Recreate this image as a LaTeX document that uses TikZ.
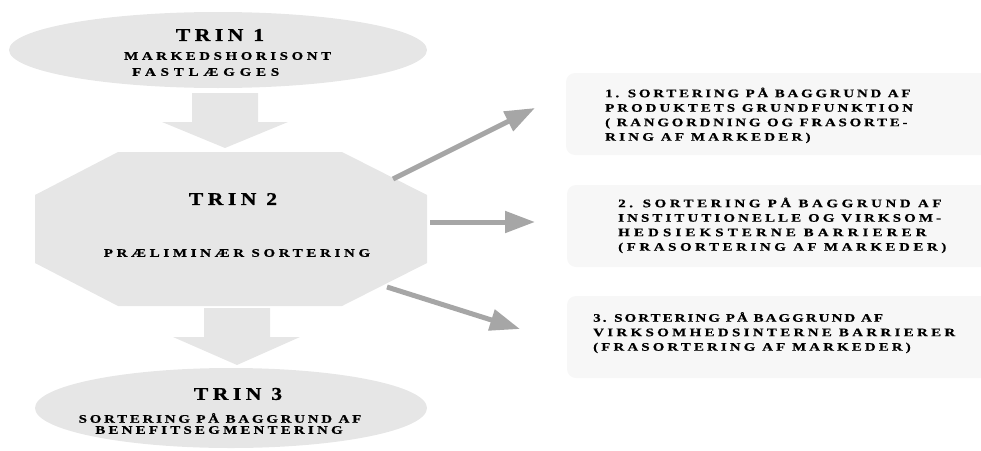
\documentclass[tikz,border=0pt]{standalone}
\usepackage{fontspec}
\setmainfont{Liberation Serif}
\newfontfamily\smallfam{Liberation Serif}[FakeStretch=1.3,FakeBold=0.7]
\newfontfamily\bigfam{Liberation Serif}[FakeStretch=1.2,FakeBold=0.8]
\usetikzlibrary{shapes.geometric,arrows.meta}
\definecolor{shapegray}{HTML}{E6E6E6}
\definecolor{boxgray}{HTML}{F7F7F7}
\definecolor{arrowgray}{HTML}{A6A6A6}
\newcommand{\lsp}[2]{{\addfontfeature{LetterSpace=#1}#2}}
\tikzset{
  x=1pt, y=-1pt,
  stage/.style={fill=shapegray, draw=none, inner sep=0pt},
  bigtxt/.style={inner sep=0pt, font=\bigfam\fontsize{18}{20}\selectfont\bfseries},
  smalltxt/.style={inner sep=0pt, font=\smallfam\fontsize{11.5}{13}\selectfont\bfseries},
  boxtxt/.style={inner sep=0pt, align=left, font=\smallfam\fontsize{11.5}{14.5}\selectfont\bfseries},
  sidebox/.style={fill=boxgray, draw=none, rounded corners=9pt},
  blockarrow/.style={fill=shapegray, draw=none},
  thinarrow/.style={draw=arrowgray, line width=5pt, -{Triangle[length=30pt,width=21pt]}},
}
\begin{document}
\begin{tikzpicture}
\useasboundingbox (0,0) rectangle (981,450);
\clip (0,0) rectangle (981,450);
% stage 1
\node[stage, ellipse, minimum width=418pt, minimum height=76pt] (t1) at (218,50) {};
\node[bigtxt] (t1a) at (220,35) {\lsp{25}{TRIN 1}};
\node[smalltxt, anchor=west] (t1b) at (124,56) {\lsp{31}{MARKEDSHORISONT}};
\node[smalltxt, anchor=west] (t1c) at (132,72) {\lsp{42}{FASTLÆGGES}};
% block arrow 1
\fill[blockarrow] (192,93) -- (258,93) -- (258,122) -- (288,122) -- (225,148) -- (162,122) -- (192,122) -- cycle;
% stage 2 octagon
\fill[shapegray] (118,152) -- (342,152) -- (427,195) -- (427,263) -- (342,306) -- (118,306) -- (35,263) -- (35,195) -- cycle;
\node[inner sep=0pt, minimum width=392pt, minimum height=154pt] (t2) at (231,229) {};
\node[bigtxt] (t2a) at (233,199) {\lsp{25}{TRIN 2}};
\node[smalltxt] (t2b) at (237,253) {\lsp{32}{PRÆLIMINÆR SORTERING}};
% block arrow 2
\fill[blockarrow] (204,308) -- (270,308) -- (270,337) -- (300,337) -- (237,365) -- (173,337) -- (204,337) -- cycle;
% stage 3
\node[stage, ellipse, minimum width=392pt, minimum height=80pt] (t3) at (231,408) {};
\node[bigtxt] (t3a) at (238,394) {\lsp{25}{TRIN 3}};
\node[smalltxt] (t3b) at (220,418) {\lsp{24}{SORTERING PÅ BAGGRUND AF}};
\node[smalltxt] (t3c) at (219,430) {\lsp{28}{BENEFITSEGMENTERING}};
% side boxes
\fill[sidebox] (566,73) rectangle (1000,155);
\fill[sidebox] (567,185) rectangle (1000,267);
\fill[sidebox] (567,296) rectangle (1000,378);
\node[boxtxt, anchor=base west] (b1) at (605,140.7) {\lsp{24}{1. SORTERING PÅ BAGGRUND AF}\\\lsp{26}{PRODUKTETS GRUNDFUNKTION}\\\lsp{24}{( RANGORDNING OG FRASORTE-}\\\lsp{28}{RING AF MARKEDER)}};
\node[boxtxt, anchor=base west] (b2) at (618,250.7) {\lsp{31}{2. SORTERING PÅ BAGGRUND AF}\\\lsp{27}{INSTITUTIONELLE OG VIRKSOM-}\\\lsp{36}{HEDSIEKSTERNE BARRIERER}\\\lsp{31}{(FRASORTERING AF MARKEDER)}};
\node[boxtxt, anchor=base west] (b3) at (593,350.7) {\lsp{18}{3. SORTERING PÅ BAGGRUND AF}\\\lsp{29}{VIRKSOMHEDSINTERNE BARRIERER}\\\lsp{27}{(FRASORTERING AF MARKEDER)}};
% connectors
\coordinate (a1s) at (393,179);
\coordinate (a1e) at (535,108);
\coordinate (a2s) at (430,222);
\coordinate (a2e) at (535,222);
\coordinate (a3s) at (387,287);
\coordinate (a3e) at (520,329);
\draw[thinarrow] (a1s) -- (a1e);
\draw[thinarrow] (a2s) -- (a2e);
\draw[thinarrow] (a3s) -- (a3e);
\end{tikzpicture}
\end{document}
